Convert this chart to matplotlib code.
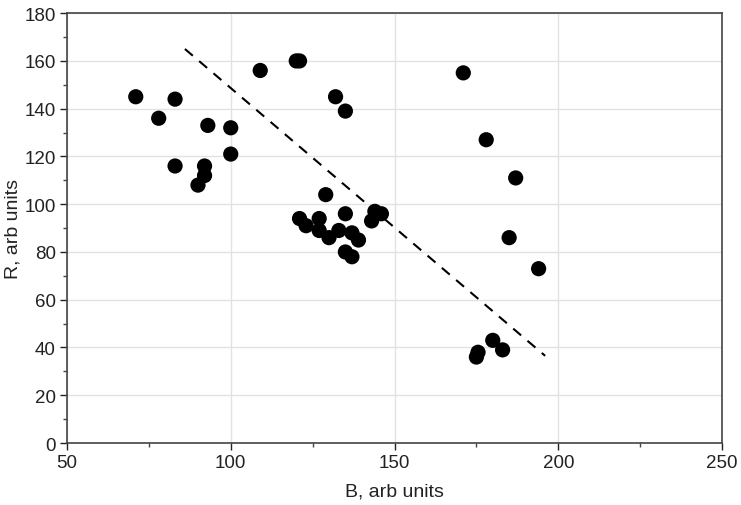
import matplotlib.pyplot as plt
from matplotlib.ticker import MultipleLocator

plt.rcParams['font.family'] = ['Liberation Sans', 'DejaVu Sans']

# measured points, arb units
b_vals = [71, 78, 83, 83, 90, 92, 92, 93, 100, 100, 109, 120, 121,
          132, 135, 129, 121, 123, 127, 127, 130, 133, 135, 135, 137, 137, 139, 143, 144, 146,
          171, 178, 187, 185, 194, 175, 175.5, 180, 183]
r_vals = [145, 136, 144, 116, 108, 116, 112, 133, 132, 121, 156, 160, 160,
          145, 139, 104, 94, 91, 94, 89, 86, 89, 96, 80, 78, 88, 85, 93, 97, 96,
          155, 127, 111, 86, 73, 36, 38, 43, 39]

# dashed trend line end points
trend_b = [86, 196]
trend_r = [165, 36.5]

fig = plt.figure(figsize=(7.41, 5.06), dpi=100)
ax = fig.add_axes([0.0904, 0.1225, 0.884, 0.8495])

ax.grid(True, which='major', color='#e2e2e2', linewidth=1.0, zorder=0)
ax.set_axisbelow(True)

ax.plot(trend_b, trend_r, linestyle=(0, (5, 4)), color='black', linewidth=1.5, zorder=2)
ax.scatter(b_vals, r_vals, s=120, color='black', edgecolors='none', zorder=3)

ax.set_xlim(50, 250)
ax.set_ylim(0, 180)
ax.xaxis.set_major_locator(MultipleLocator(50))
ax.xaxis.set_minor_locator(MultipleLocator(25))
ax.yaxis.set_major_locator(MultipleLocator(20))
ax.yaxis.set_minor_locator(MultipleLocator(10))

ax.tick_params(which='major', direction='out', length=5, width=1, labelsize=13.5, colors='#222222', pad=3)
ax.tick_params(which='minor', direction='out', length=3, width=1, colors='#444444')
for sp in ax.spines.values():
    sp.set_color('#444444')
    sp.set_linewidth(1.2)

ax.set_xlabel('B, arb units', fontsize=14, color='#222222', labelpad=8)
ax.set_ylabel('R, arb units', fontsize=14, color='#222222', labelpad=2)

fig.savefig('out.png', dpi=100)
